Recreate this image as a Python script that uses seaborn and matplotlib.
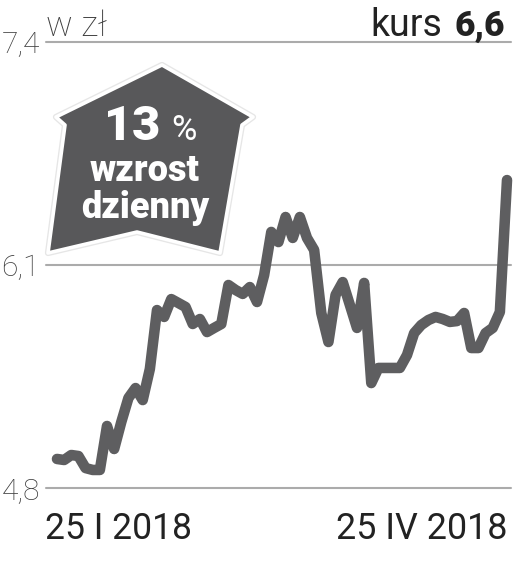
import matplotlib

matplotlib.use("Agg")

import matplotlib.pyplot as plt
import pandas as pd
import seaborn as sns
from matplotlib.patches import Polygon
from matplotlib.transforms import Affine2D

kurs = [
    4.972, 4.966, 4.995, 4.989, 4.919, 4.908, 4.908, 5.164, 5.030, 5.187,
    5.327, 5.385, 5.315, 5.496, 5.839, 5.799, 5.903, 5.880, 5.857, 5.758,
    5.787, 5.711, 5.735, 5.758, 5.985, 5.956, 5.933, 5.973, 5.886, 6.043,
    6.294, 6.235, 6.381, 6.259, 6.381, 6.259, 6.189, 5.822, 5.653, 5.927,
    6.002, 5.869, 5.735, 5.997, 5.414, 5.502, 5.502, 5.502, 5.502, 5.577,
    5.705, 5.752, 5.781, 5.799, 5.787, 5.770, 5.775, 5.822, 5.618, 5.618,
    5.705, 5.735, 5.828, 6.596,
]
y_ticks = [4.8, 6.1, 7.4]
y_labels = ["4,8", "6,1", "7,4"]

sns.set_theme(style="white")
plt.rcParams["font.family"] = ["Roboto", "DejaVu Sans"]

W, H = 514, 564
fig = plt.figure(figsize=(W / 100, H / 100), dpi=100)
ax = fig.add_axes([46 / W, 1 - 488.5 / H, 465 / W, 446.5 / H])

df = pd.DataFrame({"sesja": range(len(kurs)), "kurs": kurs})
sns.lineplot(
    data=df, x="sesja", y="kurs", color="#5e5e60", linewidth=7.6,
    solid_capstyle="round", solid_joinstyle="round", ax=ax, zorder=3, clip_on=False,
)
ax.set_xlim(-1.54, 63.56)
ax.set_ylim(4.8, 7.4)
ax.set_yticks(y_ticks, y_labels)
ax.set_xticks([])
ax.set(xlabel="", ylabel="")
ax.grid(axis="y", color="#ababab", linewidth=1.5, clip_on=False)
ax.tick_params(axis="y", length=0, pad=4.5, labelsize=21.5, labelcolor="#3c3c3c")
for label_ in ax.get_yticklabels():
    label_.set_fontweight("light")
sns.despine(ax=ax, left=True, bottom=True, top=True, right=True)

# etykiety i strzalka w pikselach obrazka
px = Affine2D().scale(1 / W, -1 / H).translate(0, 1) + fig.transFigure
house = [(162, 65), (253, 117), (242, 125), (220, 253), (137, 232), (48, 253), (65, 125), (56, 117)]
fig.add_artist(Polygon(house, closed=True, transform=px, facecolor="white", edgecolor="#e6e6e6",
                       linewidth=4.5, joinstyle="round", zorder=4))
fig.add_artist(Polygon(house, closed=True, transform=px, facecolor="#58585a", edgecolor="white",
                       linewidth=2.6, joinstyle="round", zorder=5))


def label(x, y, s, size, weight="regular", ha="left", color="#222222"):
    fig.text(x, y, s, transform=px, fontsize=size, fontweight=weight, ha=ha, va="baseline",
             color=color, zorder=6, family=["Roboto", "DejaVu Sans"])


label(46, 36, "w zł", 25.5, weight="light", color="#3c3c3c")
label(370, 36, "kurs", 27)
label(505, 36, "6,6", 25.5, weight="black", ha="right")
label(45, 539, "25 I 2018", 25.6)
label(508, 539, "25 IV 2018", 25.8, ha="right")
label(132, 140, "13", 35, weight="black", ha="center", color="white")
label(171, 140, "%", 25, ha="left", color="white")
label(145, 181, "wzrost", 26, weight="black", ha="center", color="white")
label(145, 218, "dzienny", 26, weight="black", ha="center", color="white")

fig.savefig("out.png", dpi=100)
